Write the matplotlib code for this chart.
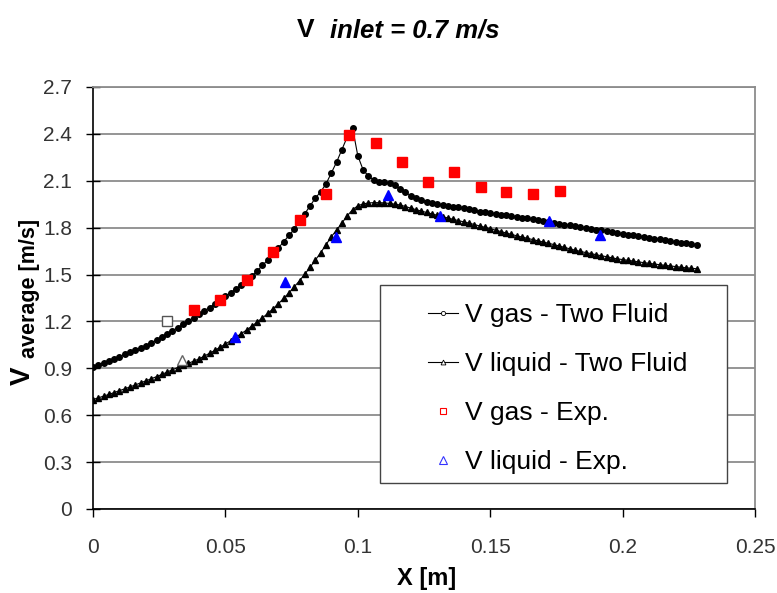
import matplotlib
matplotlib.use("Agg")
import matplotlib.pyplot as plt
from matplotlib.lines import Line2D
from matplotlib.patches import Rectangle

plt.rcParams["font.family"] = ["Liberation Sans", "DejaVu Sans"]

# simulation nodes (two fluid model)
x_sim = [0.000, 0.002, 0.004, 0.006, 0.008, 0.010, 0.012, 0.014, 0.016, 0.018,
         0.020, 0.022, 0.024, 0.026, 0.028, 0.030, 0.032, 0.034, 0.036, 0.038,
         0.040, 0.042, 0.044, 0.046, 0.048, 0.050, 0.052, 0.054, 0.056, 0.058,
         0.060, 0.062, 0.064, 0.066, 0.068, 0.070, 0.072, 0.074, 0.076, 0.078,
         0.080, 0.082, 0.084, 0.086, 0.088, 0.090, 0.092, 0.094, 0.096, 0.098,
         0.100, 0.102, 0.104, 0.106, 0.108, 0.110, 0.112, 0.114, 0.116, 0.118,
         0.120, 0.122, 0.124, 0.126, 0.128, 0.130, 0.132, 0.134, 0.136, 0.138,
         0.140, 0.142, 0.144, 0.146, 0.148, 0.150, 0.152, 0.154, 0.156, 0.158,
         0.160, 0.162, 0.164, 0.166, 0.168, 0.170, 0.172, 0.174, 0.176, 0.178,
         0.180, 0.182, 0.184, 0.186, 0.188, 0.190, 0.192, 0.194, 0.196, 0.198,
         0.200, 0.202, 0.204, 0.206, 0.208, 0.210, 0.212, 0.214, 0.216, 0.218,
         0.220, 0.222, 0.224, 0.226, 0.228]

v_gas_sim = [0.910, 0.923, 0.936, 0.949, 0.962, 0.975, 0.989, 1.003, 1.017, 1.031,
             1.045, 1.063, 1.081, 1.100, 1.120, 1.140, 1.161, 1.182, 1.203, 1.225,
             1.245, 1.267, 1.289, 1.312, 1.335, 1.360, 1.384, 1.409, 1.434, 1.460,
             1.490, 1.524, 1.558, 1.594, 1.630, 1.670, 1.710, 1.750, 1.790, 1.840,
             1.890, 1.940, 1.990, 2.030, 2.080, 2.150, 2.220, 2.300, 2.380, 2.440,
             2.260, 2.170, 2.130, 2.105, 2.090, 2.090, 2.085, 2.070, 2.050, 2.025,
             2.005, 1.990, 1.975, 1.965, 1.955, 1.950, 1.945, 1.940, 1.935, 1.930,
             1.925, 1.918, 1.910, 1.903, 1.897, 1.893, 1.888, 1.883, 1.879, 1.874,
             1.870, 1.864, 1.859, 1.853, 1.847, 1.842, 1.837, 1.831, 1.826, 1.820,
             1.815, 1.810, 1.804, 1.798, 1.793, 1.788, 1.782, 1.777, 1.771, 1.766,
             1.761, 1.756, 1.751, 1.745, 1.740, 1.735, 1.730, 1.725, 1.720, 1.715,
             1.710, 1.705, 1.700, 1.695, 1.690]

v_liq_sim = [0.700, 0.711, 0.722, 0.733, 0.745, 0.757, 0.769, 0.781, 0.794, 0.807,
             0.820, 0.833, 0.847, 0.861, 0.876, 0.891, 0.905, 0.918, 0.932, 0.946,
             0.960, 0.978, 0.996, 1.015, 1.035, 1.055, 1.077, 1.100, 1.122, 1.145,
             1.170, 1.196, 1.223, 1.251, 1.281, 1.313, 1.347, 1.383, 1.421, 1.461,
             1.503, 1.547, 1.593, 1.641, 1.691, 1.742, 1.785, 1.830, 1.875, 1.915,
             1.940, 1.952, 1.958, 1.960, 1.960, 1.958, 1.955, 1.950, 1.945, 1.935,
             1.925, 1.915, 1.906, 1.897, 1.888, 1.879, 1.870, 1.862, 1.853, 1.845,
             1.837, 1.829, 1.820, 1.811, 1.802, 1.793, 1.784, 1.775, 1.766, 1.757,
             1.748, 1.740, 1.732, 1.724, 1.716, 1.708, 1.700, 1.692, 1.683, 1.674,
             1.665, 1.656, 1.648, 1.641, 1.634, 1.627, 1.620, 1.614, 1.607, 1.600,
             1.596, 1.591, 1.586, 1.581, 1.576, 1.572, 1.567, 1.563, 1.559, 1.555,
             1.551, 1.547, 1.543, 1.540, 1.537]

# experiments
x_gas_exp = [0.038, 0.048, 0.058, 0.068, 0.078, 0.088, 0.0967, 0.107, 0.1166,
             0.1266, 0.1364, 0.1464, 0.156, 0.166, 0.1764]
v_gas_exp = [1.27, 1.34, 1.465, 1.645, 1.85, 2.015, 2.39, 2.34, 2.22,
             2.09, 2.155, 2.06, 2.03, 2.015, 2.035]
x_liq_exp = [0.0536, 0.0725, 0.0918, 0.1115, 0.131, 0.1723, 0.1915]
v_liq_exp = [1.10, 1.455, 1.74, 2.01, 1.877, 1.845, 1.753]

# the two grey open points
x_gas_open, v_gas_open = [0.0278], [1.205]
x_liq_open, v_liq_open = [0.0335], [0.955]

x_ticks = [0, 0.05, 0.1, 0.15, 0.2, 0.25]
x_tick_labels = ["0", "0.05", "0.1", "0.15", "0.2", "0.25"]
y_ticks = [0, 0.3, 0.6, 0.9, 1.2, 1.5, 1.8, 2.1, 2.4, 2.7]
y_tick_labels = ["0", "0.3", "0.6", "0.9", "1.2", "1.5", "1.8", "2.1", "2.4", "2.7"]

fig = plt.figure(figsize=(7.77, 5.93), dpi=100)
ax = fig.add_axes([0.1197, 0.1417, 0.852, 0.7116])

ax.plot(x_sim, v_gas_sim, color="black", lw=0.8, marker="o", markersize=4.0,
        mfc="black", mec="black", zorder=3)
ax.plot(x_sim, v_liq_sim, color="black", lw=0.8, marker="^", markersize=4.5,
        mfc="black", mec="black", zorder=3)
ax.plot(x_gas_exp, v_gas_exp, ls="none", marker="s", markersize=6.5,
        mfc="#ff0000", mec="#ff0000", zorder=4)
ax.plot(x_liq_exp, v_liq_exp, ls="none", marker="^", markersize=7.5,
        mfc="#0000ff", mec="#0000ff", zorder=4)
ax.plot(x_gas_open, v_gas_open, ls="none", marker="s", markersize=6.5,
        mfc="white", mec="#555555", mew=1.0, zorder=4)
ax.plot(x_liq_open, v_liq_open, ls="none", marker="^", markersize=7.5,
        mfc="white", mec="#666666", mew=1.0, zorder=4)

ax.set_xlim(0, 0.25)
ax.set_ylim(0, 2.7)
ax.set_xticks(x_ticks)
ax.set_xticklabels(x_tick_labels)
ax.set_yticks(y_ticks)
ax.set_yticklabels(y_tick_labels)
ax.tick_params(axis="x", direction="out", length=6, width=1, pad=15,
               labelsize=15, labelcolor="#333333")
ax.tick_params(axis="y", direction="inout", length=10, width=1, pad=10,
               labelsize=15, labelcolor="#333333")

ax.grid(axis="y", color="#8c8c8c", lw=1.3)
ax.set_axisbelow(True)
for side in ["left", "bottom"]:
    ax.spines[side].set_color("black")
    ax.spines[side].set_linewidth(1.2)
for side in ["top", "right"]:
    ax.spines[side].set_color("#8c8c8c")
    ax.spines[side].set_linewidth(1.3)

# legend box drawn by hand so it can be wider than its content
ax.add_patch(Rectangle((0.4335, 0.0616), 0.5242, 0.4692, transform=ax.transAxes,
                       facecolor="white", edgecolor="#444444", lw=1.0, zorder=5))
handles = [
    Line2D([], [], color="black", lw=0.8, marker="o", markersize=3, mfc="white",
           mec="black", mew=0.6, label="V gas - Two Fluid"),
    Line2D([], [], color="black", lw=0.8, marker="^", markersize=3.5, mfc="white",
           mec="black", mew=0.6, label="V liquid - Two Fluid"),
    Line2D([], [], ls="none", marker="s", markersize=5, mfc="white",
           mec="#ff0000", mew=0.8, label="V gas - Exp."),
    Line2D([], [], ls="none", marker="^", markersize=5.5, mfc="white",
           mec="#3333ff", mew=0.8, label="V liquid - Exp."),
]
leg = ax.legend(handles=handles, loc="upper left", bbox_to_anchor=(0.506, 0.488),
                frameon=False, fontsize=19, handlelength=1.15, handletextpad=0.25,
                labelspacing=0.95, borderpad=0, borderaxespad=0)
leg.set_zorder(6)

fig.text(0.382, 0.9376, "V", fontsize=19, fontweight="bold", va="baseline")
fig.text(0.4247, 0.9376, "inlet = 0.7 m/s", fontsize=18.5, fontweight="bold",
         style="italic", va="baseline")

fig.text(0.0296, 0.366, "V", fontsize=20, fontweight="bold", rotation=90,
         ha="center", va="center")
fig.text(0.0375, 0.5143, "average [m/s]", fontsize=15.5, fontweight="bold",
         rotation=90, ha="center", va="center")
fig.text(0.549, 0.013, "X [m]", fontsize=17, fontweight="bold", ha="center",
         va="baseline")

fig.savefig("out.png", dpi=100)
